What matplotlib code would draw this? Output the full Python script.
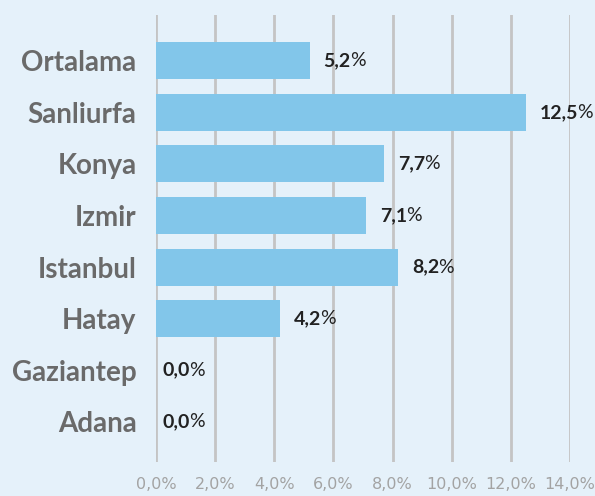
import matplotlib
matplotlib.use('Agg')
import matplotlib.pyplot as plt
import numpy as np

cities = ['Ortalama', 'Sanliurfa', 'Konya', 'Izmir', 'Istanbul', 'Hatay', 'Gaziantep', 'Adana']
values = [5.2, 12.5, 7.7, 7.1, 8.2, 4.2, 0.0, 0.0]
xticks = [0, 2, 4, 6, 8, 10, 12, 14]

bg = '#e5f1fa'
bar_color = '#82c6ea'

plt.rcParams['font.family'] = 'DejaVu Sans'
plt.rcParams['xtick.labelsize'] = 11.5
plt.rcParams['xtick.labelcolor'] = '#a3a3a3'

fig = plt.figure(figsize=(5.95, 4.96), dpi=100, facecolor=bg)
ax = fig.add_axes([0.262, 0.0685, 0.696, 0.9015], facecolor=bg)

y = np.arange(len(cities))
ax.barh(y, values, height=0.72, color=bar_color, zorder=2)

ax.set_xlim(0, 14)
ax.set_ylim(len(cities) - 1 + 0.78, -0.89)
ax.set_xticks(xticks, [('%.1f' % v).replace('.', ',') + '%' for v in xticks])
ax.set_yticks(y, cities, color='#6a6a6a', fontsize=20, fontweight='bold', family='Lato')
ax.tick_params(axis='x', length=0, pad=11)
ax.tick_params(axis='y', length=0, pad=14)
for s in ax.spines.values():
    s.set_visible(False)
ax.grid(axis='x', color='#c4c4c4', linewidth=2, zorder=1)

for yi, v in zip(y, values):
    off = 14 if v > 0 else 7
    t = ax.annotate(('%.1f' % v).replace('.', ','), xy=(v, yi), xytext=(off, 0),
                    textcoords='offset pixels', va='center', ha='left',
                    fontsize=14, fontweight='bold', color='#222222', family='Lato')
    ax.annotate('%', xy=(1, 0), xycoords=t, xytext=(-1, 0), textcoords='offset pixels',
                va='bottom', ha='left', fontsize=14, color='#222222', family='Lato')

fig.savefig('out.png', dpi=100, facecolor=bg)
